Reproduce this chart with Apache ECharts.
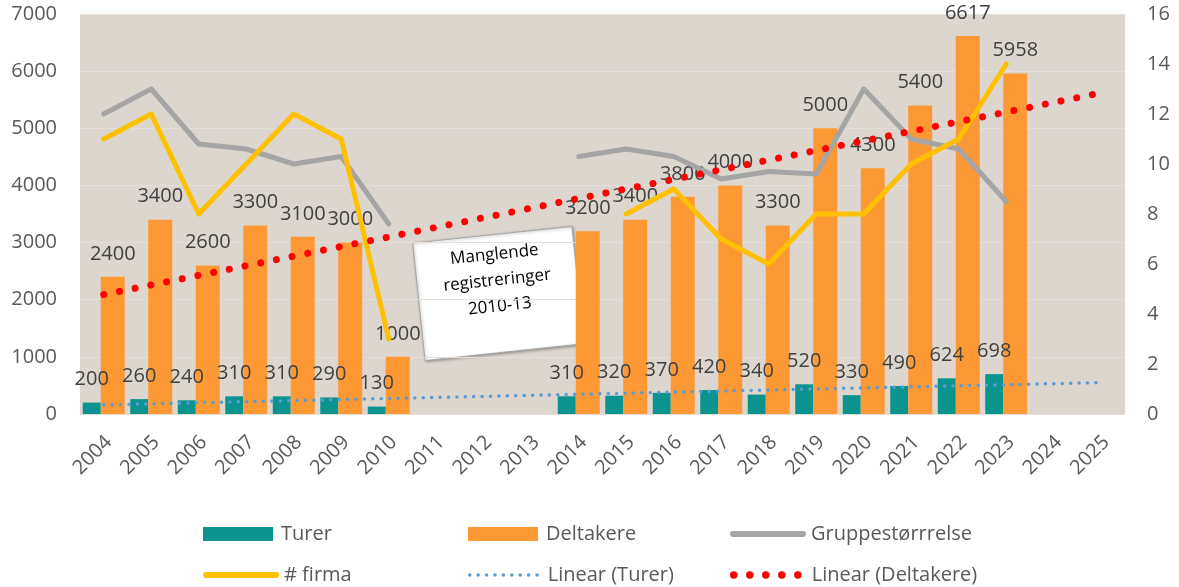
<!DOCTYPE html>
<html>
<head>
<meta charset="utf-8">
<script src="https://cdn.jsdelivr.net/npm/echarts@6/dist/echarts.min.js"></script>
<style>
  html, body { margin: 0; padding: 0; background: #fff; }
  #main { width: 1179px; height: 587px; }
</style>
</head>
<body>
<div id="main"></div>
<script>
// kategorier (år)
var years = ['2004', '2005', '2006', '2007', '2008', '2009', '2010', '2011', '2012', '2013', '2014',
  '2015', '2016', '2017', '2018', '2019', '2020', '2021', '2022', '2023', '2024', '2025'];

// venstre akse
var turer = [200, 260, 240, 310, 310, 290, 130, null, null, null, 310, 320, 370, 420, 340, 520, 330, 490, 624, 698, null, null];
var deltakere = [2400, 3400, 2600, 3300, 3100, 3000, 1000, null, null, null, 3200, 3400, 3800, 4000, 3300, 5000, 4300, 5400, 6617, 5958, null, null];

// høyre akse
var gruppe = [12, 13, 10.8, 10.6, 10, 10.3, 7.6, null, null, null, 10.3, 10.6, 10.3, 9.4, 9.7, 9.6, 13, 11, 10.6, 8.5, null, null];
var firma = [11, 12, 8, 10, 12, 11, 3, null, null, null, null, 8, 9, 7, 6, 8, 8, 10, 11, 14, null, null];

// trendlinjer (start- og sluttpunkt)
var trendTurer = [['2004', 160], ['2025', 550]];
var trendDeltakere = [['2004', 2090], ['2025', 5620]];

var leftMax = 7000, leftStep = 1000;
var rightMax = 16, rightStep = 2;

var font = '"Open Sans", "Noto Sans", sans-serif';
var axisGrey = '#595959';
var labelGrey = '#404040';

var chart = echarts.init(document.getElementById('main'), null, { renderer: 'canvas' });

function legendAt(name, left, top, opts) {
  var l = {
    data: [name],
    left: left,
    top: top,
    padding: 0,
    orient: 'horizontal',
    itemWidth: 70,
    itemHeight: 14,
    selectedMode: false,
    itemStyle: { opacity: 0 },
    textStyle: { fontSize: 20, color: axisGrey, fontFamily: font, padding: [0, 0, 0, 3] }
  };
  for (var k in opts) l[k] = opts[k];
  return l;
}

function plain(v) { return String(v); }

var option = {
  animation: false,
  backgroundColor: '#ffffff',
  grid: {
    left: 80,
    right: 54,
    top: 14,
    bottom: 173,
    show: true,
    backgroundColor: '#dcd6cf',
    borderWidth: 0
  },
  legend: [
    legendAt('Turer', 203, 524, { icon: 'rect', itemStyle: {} }),
    legendAt('Deltakere', 468, 524, { icon: 'rect', itemStyle: {} }),
    legendAt('Gruppestørrrelse', 730, 524, { lineStyle: { width: 6, cap: 'round' } }),
    legendAt('# firma', 203, 565, { lineStyle: { width: 6, cap: 'round' } }),
    legendAt('Linear (Turer)', 468, 565, { lineStyle: { width: 3.5 } }),
    legendAt('Linear (Deltakere)', 730, 565, { lineStyle: { width: 7.5 } })
  ],
  xAxis: {
    type: 'category',
    data: years,
    boundaryGap: true,
    axisLine: { show: false },
    axisTick: { show: false },
    axisLabel: {
      interval: 0,
      rotate: 45,
      margin: 30,
      padding: [0, -7, 0, 0],
      fontSize: 20,
      color: axisGrey,
      fontFamily: font
    }
  },
  yAxis: [
    {
      type: 'value',
      min: 0,
      max: leftMax,
      interval: leftStep,
      axisLine: { show: false },
      axisTick: { show: false },
      splitLine: { lineStyle: { color: '#e4dfda', width: 1 } },
      axisLabel: { margin: 23, fontSize: 20, color: axisGrey, fontFamily: font, formatter: plain }
    },
    {
      type: 'value',
      min: 0,
      max: rightMax,
      interval: rightStep,
      axisLine: { show: false },
      axisTick: { show: false },
      splitLine: { show: false },
      axisLabel: { margin: 22, fontSize: 20, color: axisGrey, fontFamily: font, formatter: plain }
    }
  ],
  series: [
    {
      name: 'Turer',
      type: 'bar',
      data: turer,
      barWidth: 18,
      barGap: '0%',
      itemStyle: { color: '#0b938f' },
      label: { show: true, position: 'top', distance: 13, fontSize: 20, color: labelGrey, fontFamily: font },
      z: 2
    },
    {
      name: 'Deltakere',
      type: 'bar',
      data: deltakere,
      barWidth: 24,
      barGap: '0%',
      itemStyle: { color: '#fd9935' },
      label: { show: true, position: 'top', distance: 13, fontSize: 20, color: labelGrey, fontFamily: font },
      z: 2
    },
    {
      name: 'Gruppestørrrelse',
      type: 'line',
      yAxisIndex: 1,
      data: gruppe,
      symbol: 'none',
      lineStyle: { color: '#a5a5a5', width: 5, cap: 'round', join: 'round' },
      itemStyle: { color: '#a5a5a5' },
      z: 3
    },
    {
      name: '# firma',
      type: 'line',
      yAxisIndex: 1,
      data: firma,
      symbol: 'none',
      lineStyle: { color: '#ffc000', width: 5, cap: 'round', join: 'round' },
      itemStyle: { color: '#ffc000' },
      z: 3
    },
    {
      name: 'Linear (Turer)',
      type: 'line',
      data: trendTurer,
      symbol: 'none',
      lineStyle: { color: '#5b9bd5', width: 3.5, type: [0.01, 8.4], cap: 'round' },
      itemStyle: { color: '#5b9bd5' },
      z: 4
    },
    {
      name: 'Linear (Deltakere)',
      type: 'line',
      data: trendDeltakere,
      symbol: 'none',
      lineStyle: { color: '#ff0000', width: 7, type: [0.01, 16], cap: 'round' },
      itemStyle: { color: '#ff0000' },
      z: 4
    }
  ],
  graphic: [
    {
      type: 'group',
      x: 498.5,
      y: 293.4,
      rotation: 6 * Math.PI / 180,
      z: 100,
      children: [
        {
          type: 'rect',
          shape: { x: -80, y: -59, width: 160, height: 118 },
          style: {
            fill: '#ffffff',
            stroke: '#a6a6a6',
            lineWidth: 1,
            shadowBlur: 3,
            shadowOffsetX: 1,
            shadowOffsetY: 1,
            shadowColor: 'rgba(0,0,0,0.3)'
          }
        },
        {
          type: 'text',
          x: 0,
          y: -13,
          style: {
            text: 'Manglende\nregistreringer\n2010-13',
            fill: '#000000',
            fontSize: 17,
            fontFamily: font,
            align: 'center',
            verticalAlign: 'middle',
            lineHeight: 26
          }
        }
      ]
    }
  ]
};

chart.setOption(option);
</script>
</body>
</html>
